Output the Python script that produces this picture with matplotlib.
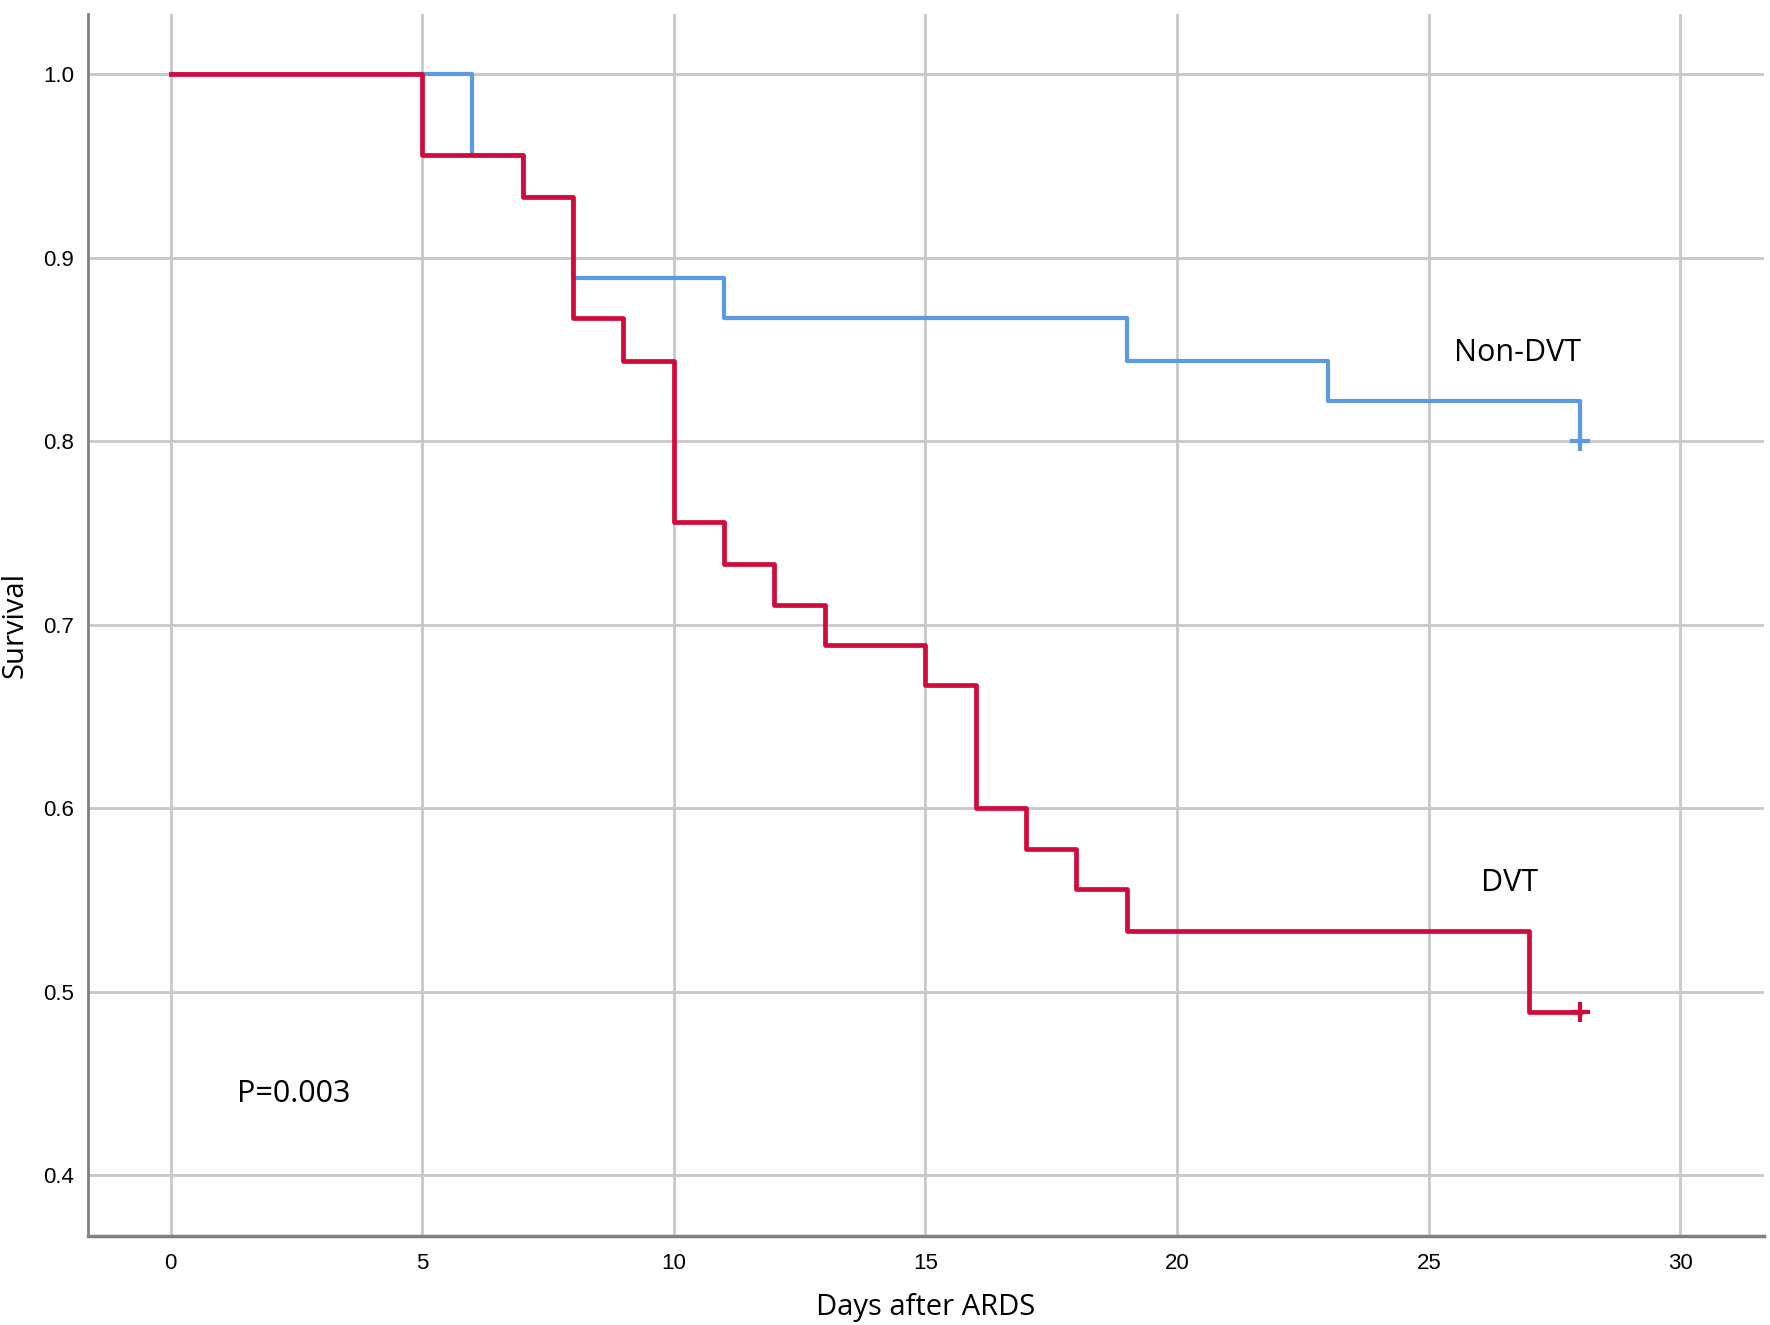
import matplotlib
matplotlib.use("Agg")
import matplotlib.pyplot as plt
from matplotlib import font_manager

# -----------------------------
# DATI (Kaplan-Meier)
# -----------------------------
dvt_days = [0, 5, 7, 8, 9, 10, 11, 12, 13, 15, 16, 17, 18, 19, 27, 28]
dvt_surv = [1.0, 0.956, 0.933, 0.867, 0.844, 0.756, 0.733, 0.711, 0.689,
            0.667, 0.600, 0.578, 0.556, 0.533, 0.489, 0.489]

non_dvt_days = [0, 6, 7, 8, 11, 19, 23, 28]
non_dvt_surv = [1.0, 0.956, 0.933, 0.889, 0.867, 0.844, 0.822, 0.800]

censor_day = 28
dvt_censor = 0.489
non_dvt_censor = 0.800

x_ticks = [0, 5, 10, 15, 20, 25, 30]
y_ticks = [0.4, 0.5, 0.6, 0.7, 0.8, 0.9, 1.0]

BLUE = "#5b9be6"
RED = "#d20a3c"
GRID = "#c8c8c8"

# -----------------------------
# FONT
# -----------------------------
available = {f.name for f in font_manager.fontManager.ttflist}
tick_font = "Liberation Sans" if "Liberation Sans" in available else "DejaVu Sans"
text_font = "Open Sans" if "Open Sans" in available else "DejaVu Sans"

# -----------------------------
# GRAFICO
# -----------------------------
fig = plt.figure(figsize=(17.7, 13.25), dpi=100)
ax = fig.add_axes([0.0497, 0.0672, 0.9469, 0.9226])

ax.step(non_dvt_days, non_dvt_surv, where="post", color=BLUE, lw=3.0, zorder=3)
ax.step(dvt_days, dvt_surv, where="post", color=RED, lw=3.4, zorder=4)
ax.plot([censor_day], [non_dvt_censor], marker="+", ms=14, mew=3.0,
        color=BLUE, zorder=3)
ax.plot([censor_day], [dvt_censor], marker="+", ms=14, mew=3.0,
        color=RED, zorder=4)

ax.set_xlim(-1.64, 31.66)
ax.set_ylim(0.3668, 1.0332)
ax.set_xticks(x_ticks)
ax.set_yticks(y_ticks)
ax.set_yticklabels([f"{v:.1f}" for v in y_ticks])
ax.grid(True, color=GRID, lw=2.0, zorder=0)
ax.set_axisbelow(True)

ax.tick_params(length=0, labelsize=16)
ax.tick_params(axis="x", pad=12)
ax.tick_params(axis="y", pad=10)
for lbl in ax.get_xticklabels() + ax.get_yticklabels():
    lbl.set_fontfamily(tick_font)

for side in ["top", "right"]:
    ax.spines[side].set_visible(False)
ax.spines["left"].set_color("#808080")
ax.spines["left"].set_linewidth(2)
ax.spines["bottom"].set_color("#808080")
ax.spines["bottom"].set_linewidth(2.5)

ax.set_xlabel("Days after ARDS", fontsize=21, family=text_font, labelpad=14)
ax.set_ylabel("Survival", fontsize=21, family=text_font, labelpad=10)

ax.text(26.77, 0.848, "Non-DVT", fontsize=22, family=text_font,
        ha="center", va="center")
ax.text(26.6, 0.559, "DVT", fontsize=22, family=text_font,
        ha="center", va="center")
ax.text(2.44, 0.444, "P=0.003", fontsize=22, family=text_font,
        ha="center", va="center")

fig.savefig("out.png", dpi=100)
plt.close(fig)
